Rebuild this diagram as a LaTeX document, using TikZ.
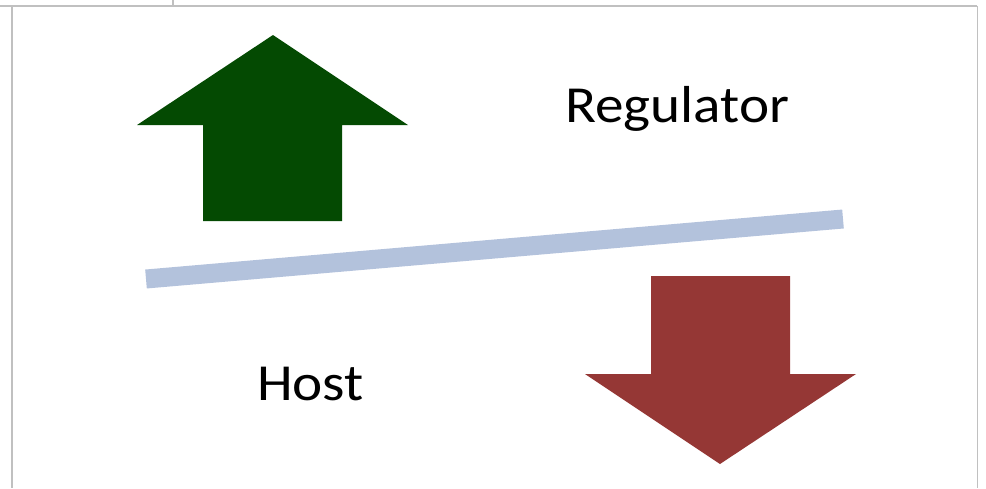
\documentclass[tikz,border=0pt]{standalone}
\usepackage{fontspec}
\setmainfont[FakeStretch=1.1]{Carlito}
\definecolor{frame}{RGB}{192,192,192}
\definecolor{upgreen}{RGB}{4,74,2}
\definecolor{downred}{RGB}{149,55,53}
\definecolor{beam}{RGB}{179,194,220}
\tikzset{
  frameline/.style={draw=frame, line width=1.6pt},
  label/.style={inner sep=0pt, anchor=base west, font=\fontsize{52}{62}\selectfont}
}
\begin{document}
\begin{tikzpicture}[x=1pt, y=-1pt]
  \useasboundingbox (0,0) rectangle (986,488);
  % page frame
  \draw[frameline] (0,5.8) -- (977.3,5.8);
  \draw[frameline] (12.2,5.8) -- (12.2,488);
  \draw[frameline] (977.3,5.8) -- (977.3,488);
  \draw[frameline] (173,0) -- (173,5.8);
  % upward arrow
  \fill[upgreen] (273,35) -- (408,125) -- (342,125) -- (342,221)
     -- (203,221) -- (203,125) -- (137,125) -- cycle;
  % downward arrow
  \fill[downred] (720,464) -- (856,374) -- (790,374) -- (790,276)
     -- (651,276) -- (651,374) -- (585,374) -- cycle;
  % tilted beam
  \draw[beam, line width=19pt] (146,279) -- (843,219);
  % labels
  \node[label] (reg) at (565,122) {Regulator};
  \node[label] (host) at (257,400.5) {Host};
\end{tikzpicture}
\end{document}
